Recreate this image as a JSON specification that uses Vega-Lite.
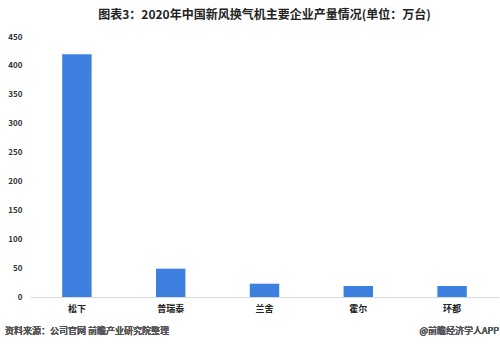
{
  "$schema": "https://vega.github.io/schema/vega-lite/v6.json",
  "width": 469,
  "height": 260,
  "autosize": {"type": "none"},
  "padding": {"left": 30, "top": 37, "right": 1, "bottom": 49},
  "background": "white",
  "config": {
    "view": {"stroke": null},
    "font": "Noto Sans CJK SC"
  },
  "title": {
    "text": "图表3：2020年中国新风换气机主要企业产量情况(单位：万台)",
    "fontSize": 12,
    "fontWeight": "bold",
    "color": "#222222",
    "anchor": "middle",
    "offset": 14,
    "dy": 3
  },
  "data": {
    "values": [
      {"company": "松下", "output": 420},
      {"company": "普瑞泰", "output": 49},
      {"company": "兰舍", "output": 23},
      {"company": "霍尔", "output": 19},
      {"company": "环都", "output": 19}
    ]
  },
  "layer": [
    {
      "mark": {"type": "bar", "color": "#3E80E0"},
      "encoding": {
        "x": {
          "field": "company",
          "type": "nominal",
          "sort": null,
          "scale": {"paddingInner": 0.686, "paddingOuter": 0.343},
          "axis": {
            "title": null,
            "labelAngle": 0,
            "labelFontSize": 9,
            "labelFontWeight": "bold",
            "labelColor": "#222222",
            "labelPadding": 7,
            "ticks": false,
            "domainColor": "#d9d9d9",
            "domainWidth": 1
          }
        },
        "y": {
          "field": "output",
          "type": "quantitative",
          "scale": {"domain": [0, 450], "nice": false},
          "axis": {
            "title": null,
            "values": [0, 50, 100, 150, 200, 250, 300, 350, 400, 450],
            "grid": false,
            "domain": false,
            "ticks": false,
            "labelFontSize": 8,
            "labelFontWeight": "bold",
            "labelColor": "#333333",
            "labelPadding": 8
          }
        }
      }
    },
    {
      "mark": {
        "type": "text",
        "text": "资料来源：公司官网 前瞻产业研究院整理",
        "align": "left",
        "baseline": "middle",
        "fontSize": 9,
        "fontWeight": "normal",
        "color": "#555555"
      },
      "encoding": {
        "x": {"value": -25},
        "y": {"value": 294}
      }
    },
    {
      "mark": {
        "type": "text",
        "text": "@前瞻经济学人APP",
        "align": "right",
        "baseline": "middle",
        "fontSize": 9,
        "fontWeight": "normal",
        "color": "#555555"
      },
      "encoding": {
        "x": {"value": 469},
        "y": {"value": 294}
      }
    }
  ]
}
